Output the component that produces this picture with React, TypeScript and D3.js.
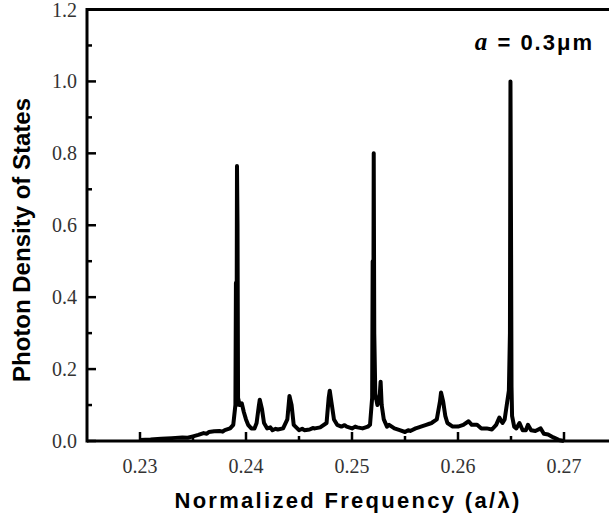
import React from "react";
import * as d3 from "d3";

const freq: number[] = [
  0.2300, 0.2310, 0.2320, 0.2330, 0.2340, 0.2345, 0.2350, 0.2355, 0.2360, 0.2363, 0.2365, 0.2370,
  0.2375, 0.2378, 0.2380, 0.2385, 0.2388, 0.2390, 0.23905, 0.2391, 0.23915, 0.2392, 0.23925,
  0.2394, 0.2396, 0.2398, 0.2400, 0.2402, 0.2405, 0.2408, 0.2410, 0.2412, 0.2413,
  0.2415, 0.2417, 0.2420, 0.2423, 0.2425, 0.2428, 0.2430, 0.2435, 0.2439, 0.2441, 0.2443, 0.2445,
  0.2450, 0.2453, 0.2455, 0.2460, 0.2463, 0.2465, 0.2470, 0.2476, 0.2478, 0.2479, 0.2481, 0.2483,
  0.2486, 0.2490, 0.2493, 0.2495, 0.2500, 0.2503, 0.2505, 0.2510, 0.2515, 0.2517, 0.2519, 0.25195,
  0.2520, 0.25205, 0.2521, 0.2522, 0.2524, 0.2526, 0.2527, 0.2528, 0.2530, 0.2533,
  0.2535, 0.2540, 0.2545, 0.2550, 0.2553, 0.2555, 0.2560, 0.2563, 0.2565, 0.2570, 0.2573, 0.2575, 0.2580,
  0.2583, 0.2584, 0.2586, 0.2588, 0.2590, 0.2595, 0.2600, 0.2605, 0.2610, 0.2613,
  0.2618, 0.2622, 0.2627, 0.2632, 0.2636, 0.2639, 0.2642, 0.2644, 0.2646, 0.2648,
  0.2649, 0.26495, 0.2650, 0.26505, 0.2651, 0.2653, 0.2655, 0.2658, 0.2661, 0.2664,
  0.2666, 0.2669, 0.2673, 0.2678, 0.2681, 0.2685, 0.2690, 0.2695, 0.2700,
];

const dos: number[] = [
  0.003, 0.004, 0.006, 0.008, 0.010, 0.009, 0.013, 0.017, 0.022, 0.020, 0.025, 0.027,
  0.028, 0.026, 0.030, 0.035, 0.045, 0.100, 0.440, 0.100, 0.765, 0.600, 0.120,
  0.100, 0.105, 0.080, 0.060, 0.045, 0.035, 0.035, 0.050, 0.095, 0.115,
  0.090, 0.050, 0.035, 0.038, 0.030, 0.034, 0.032, 0.035, 0.060, 0.125, 0.100, 0.045,
  0.030, 0.034, 0.030, 0.032, 0.036, 0.035, 0.038, 0.050, 0.120, 0.140, 0.100, 0.060,
  0.045, 0.040, 0.044, 0.040, 0.035, 0.040, 0.038, 0.035, 0.040, 0.045, 0.120, 0.500,
  0.120, 0.800, 0.300, 0.130, 0.100, 0.120, 0.165, 0.100, 0.060, 0.040,
  0.045, 0.035, 0.030, 0.025, 0.030, 0.028, 0.035, 0.038, 0.040, 0.045, 0.048, 0.050, 0.060,
  0.110, 0.135, 0.110, 0.070, 0.050, 0.040, 0.040, 0.045, 0.055, 0.045,
  0.045, 0.035, 0.035, 0.032, 0.045, 0.065, 0.050, 0.060, 0.100, 0.140,
  0.300, 1.000, 0.600, 0.150, 0.070, 0.040, 0.035, 0.050, 0.030, 0.030,
  0.045, 0.030, 0.028, 0.035, 0.020, 0.018, 0.010, 0.003, 0.000,
];

const xTicks: number[] = [0.23, 0.24, 0.25, 0.26, 0.27];
const xMinorTicks: number[] = [0.235, 0.245, 0.255, 0.265, 0.275];
const yTicks: number[] = [0.0, 0.2, 0.4, 0.6, 0.8, 1.0, 1.2];
const yMinorTicks: number[] = [0.1, 0.3, 0.5, 0.7, 0.9, 1.1];

const W = 609;
const H = 521;
const left = 87;
const top = 9.5;
const bottom = 441;

export default function App() {
  const x = d3.scaleLinear().domain([0.225, 0.275]).range([left, left + 530]);
  const y = d3.scaleLinear().domain([0, 1.2]).range([bottom, top]);
  const pts: [number, number][] = freq.map((f, i) => [f, dos[i]]);
  const line = d3
    .line<[number, number]>()
    .x((d) => x(d[0]))
    .y((d) => y(d[1]));

  const serif = "'Liberation Serif', 'Times New Roman', serif";
  const sans = "'Liberation Sans', Arial, sans-serif";

  return (
    <svg
      width={W}
      height={H}
      style={{ position: "absolute", left: 0, top: 0, background: "#fff" }}
    >
      <rect x={0} y={0} width={W} height={H} fill="#fff" />
      {/* data */}
      <path
        d={line(pts) || ""}
        fill="none"
        stroke="#000"
        strokeWidth={4}
        strokeLinejoin="round"
      />
      {/* frame */}
      <line x1={left} x2={W + 10} y1={bottom} y2={bottom} stroke="#000" strokeWidth={3} />
      <line x1={left} x2={W + 10} y1={top} y2={top} stroke="#000" strokeWidth={3} />
      <line x1={left} x2={left} y1={top - 1.5} y2={bottom + 1.5} stroke="#000" strokeWidth={3} />
      {/* x ticks */}
      {xTicks.map((t) => (
        <g key={"xt" + t}>
          <line x1={x(t)} x2={x(t)} y1={bottom} y2={bottom - 9} stroke="#000" strokeWidth={2.5} />
          <text
            x={x(t)}
            y={bottom + 32}
            textAnchor="middle"
            fontFamily={serif}
            fontSize={20}
            fill="#333"
          >
            {t.toFixed(2)}
          </text>
        </g>
      ))}
      {xMinorTicks.map((t) => (
        <line key={"xm" + t} x1={x(t)} x2={x(t)} y1={bottom} y2={bottom - 5} stroke="#000" strokeWidth={2.5} />
      ))}
      {/* y ticks */}
      {yTicks.map((t) => (
        <g key={"yt" + t}>
          <line x1={left} x2={left + 9} y1={y(t)} y2={y(t)} stroke="#000" strokeWidth={2.5} />
          <text
            x={left - 10}
            y={y(t) + 7}
            textAnchor="end"
            fontFamily={serif}
            fontSize={20}
            fill="#333"
          >
            {t.toFixed(1)}
          </text>
        </g>
      ))}
      {yMinorTicks.map((t) => (
        <line key={"ym" + t} x1={left} x2={left + 5} y1={y(t)} y2={y(t)} stroke="#000" strokeWidth={2.5} />
      ))}
      {/* annotation */}
      <text x={594} y={50} textAnchor="end" fontFamily={sans} fontSize={22} fontWeight="bold" letterSpacing={2} fill="#000">
        <tspan fontFamily={serif} fontStyle="italic" fontSize={25}>a</tspan>
        <tspan> = 0.3μm</tspan>
      </text>
      {/* axis titles */}
      <text
        x={348}
        y={508}
        textAnchor="middle"
        fontFamily={sans}
        fontSize={22}
        fontWeight="bold"
        letterSpacing={2.3}
        fill="#000"
      >
        Normalized Frequency (a/λ)
      </text>
      <text
        transform="translate(30,240) rotate(-90)"
        textAnchor="middle"
        fontFamily={sans}
        fontSize={24}
        fontWeight="bold"
        fill="#000"
      >
        Photon Density of States
      </text>
    </svg>
  );
}
